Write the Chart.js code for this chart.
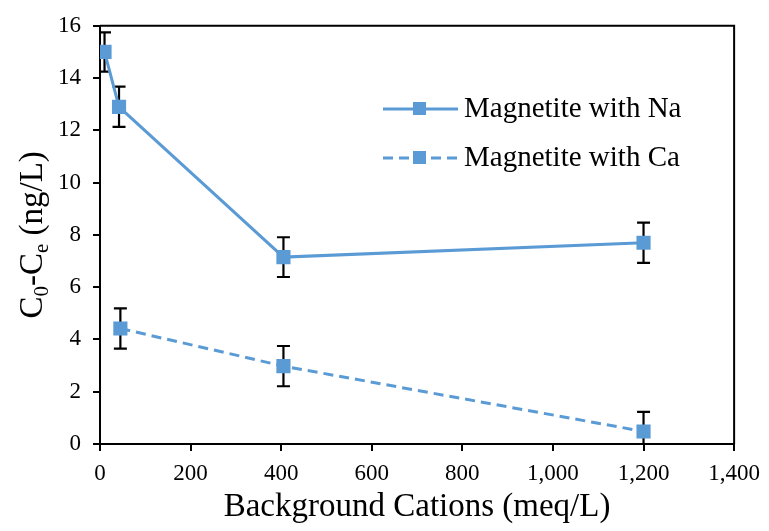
<!DOCTYPE html>
<html>
<head>
<meta charset="utf-8">
<script src="https://cdn.jsdelivr.net/npm/chart.js@4"></script>
<style>
  html, body { margin: 0; padding: 0; background: #fff; }
  #wrap { width: 769px; height: 531px; }
</style>
</head>
<body>
<div id="wrap"><canvas id="grafico"></canvas></div>
<script>
// datos
const naX = [10, 42, 405, 1200];
const naY = [15.0, 12.9, 7.15, 7.7];
const naErr = [0.75, 0.77, 0.76, 0.77];

const caX = [45, 405, 1200];
const caY = [4.42, 2.98, 0.48];
const caErr = [0.77, 0.77, 0.75];

const xTicks = [0, 200, 400, 600, 800, 1000, 1200, 1400];
const yTicks = [0, 2, 4, 6, 8, 10, 12, 14, 16];

const azul = "#5B9BD5";
const serif = "'Liberation Serif', 'Times New Roman', serif";
const guiones = [10, 6];

function puntos(xs, ys) {
  return xs.map((x, i) => ({ x: x, y: ys[i] }));
}

// barras de error (debajo de los marcadores)
const barrasError = {
  id: "barrasError",
  beforeDatasetsDraw(chart) {
    const ctx = chart.ctx;
    const xs = chart.scales.x, ys = chart.scales.y;
    const a = chart.chartArea;
    ctx.save();
    ctx.beginPath();
    ctx.rect(a.left, a.top - 20, a.right - a.left, a.bottom - a.top + 20);
    ctx.clip();
    ctx.strokeStyle = "#000";
    ctx.lineWidth = 2.2;
    const series = [[naX, naY, naErr], [caX, caY, caErr]];
    series.forEach(([X, Y, E]) => {
      X.forEach((x, i) => {
        const px = xs.getPixelForValue(x);
        const top = ys.getPixelForValue(Y[i] + E[i]);
        const bot = ys.getPixelForValue(Y[i] - E[i]);
        ctx.beginPath();
        ctx.moveTo(px, top); ctx.lineTo(px, bot);
        ctx.moveTo(px - 6.5, top); ctx.lineTo(px + 6.5, top);
        ctx.moveTo(px - 6.5, bot); ctx.lineTo(px + 6.5, bot);
        ctx.stroke();
      });
    });
    ctx.restore();
  }
};

// marco + leyenda + titulo eje y con subindices
const extras = {
  id: "extras",
  afterDatasetsDraw(chart) {
    const ctx = chart.ctx;
    const a = chart.chartArea;

    // marco superior y derecho
    ctx.save();
    ctx.strokeStyle = "#000";
    ctx.lineWidth = 2;
    ctx.beginPath();
    ctx.moveTo(a.left, a.top);
    ctx.lineTo(a.right, a.top);
    ctx.lineTo(a.right, a.bottom);
    ctx.stroke();
    ctx.restore();

    // leyenda
    const items = [
      { label: "Magnetite with Na", dash: [], y: 109 },
      { label: "Magnetite with Ca", dash: guiones, y: 158 }
    ];
    ctx.save();
    items.forEach(it => {
      ctx.strokeStyle = azul;
      ctx.lineWidth = 3;
      ctx.setLineDash(it.dash);
      ctx.beginPath();
      ctx.moveTo(383, it.y);
      ctx.lineTo(458, it.y);
      ctx.stroke();
      ctx.setLineDash([]);
      ctx.fillStyle = azul;
      ctx.fillRect(413, it.y - 7, 13, 13);
      ctx.fillStyle = "#000";
      ctx.font = "29px " + serif;
      ctx.textBaseline = "middle";
      ctx.textAlign = "left";
      ctx.fillText(it.label, 464, it.y);
    });
    ctx.restore();

    // titulo eje y: C0-Ce (ng/L)
    ctx.save();
    ctx.translate(34, (a.top + a.bottom) / 2);
    ctx.rotate(-Math.PI / 2);
    ctx.fillStyle = "#000";
    ctx.textBaseline = "alphabetic";
    const partes = [
      ["C", 33, 0], ["0", 21, 6], ["-C", 33, 0], ["e", 21, 6], [" (ng/L)", 33, 0]
    ];
    let ancho = 0;
    partes.forEach(p => { ctx.font = p[1] + "px " + serif; ancho += ctx.measureText(p[0]).width; });
    let cx = -ancho / 2;
    partes.forEach(p => {
      ctx.font = p[1] + "px " + serif;
      ctx.fillText(p[0], cx, 8 + p[2]);
      cx += ctx.measureText(p[0]).width;
    });
    ctx.restore();
  }
};

new Chart(document.getElementById("grafico").getContext("2d"), {
  type: "scatter",
  data: {
    datasets: [
      {
        label: "Magnetite with Na",
        data: puntos(naX, naY),
        showLine: true,
        borderColor: azul,
        backgroundColor: azul,
        borderWidth: 3,
        pointStyle: "rect",
        pointRadius: 10,
        pointBorderWidth: 0
      },
      {
        label: "Magnetite with Ca",
        data: puntos(caX, caY),
        showLine: true,
        borderColor: azul,
        backgroundColor: azul,
        borderWidth: 3,
        borderDash: guiones,
        pointStyle: "rect",
        pointRadius: 10,
        pointBorderWidth: 0
      }
    ]
  },
  options: {
    responsive: true,
    maintainAspectRatio: false,
    animation: false,
    layout: { padding: { top: 24, right: 31, left: 0, bottom: 0 } },
    plugins: {
      legend: { display: false },
      tooltip: { enabled: false }
    },
    scales: {
      x: {
        type: "linear",
        min: 0,
        max: 1400,
        afterBuildTicks: s => { s.ticks = xTicks.map(v => ({ value: v })); },
        afterFit: s => { s.height = 87; },
        ticks: {
          color: "#000",
          font: { family: serif, size: 23 },
          padding: 9,
          maxRotation: 0,
          callback: v => v.toLocaleString("en-US")
        },
        grid: { drawOnChartArea: false, drawTicks: true, tickLength: 7, color: "#000", lineWidth: 2 },
        border: { color: "#000", width: 2 },
        title: {
          display: true,
          text: "Background Cations (meq/L)",
          color: "#000",
          font: { family: serif, size: 33 },
          padding: { top: 17 }
        }
      },
      y: {
        min: 0,
        max: 16,
        afterBuildTicks: s => { s.ticks = yTicks.map(v => ({ value: v })); },
        afterFit: s => { s.width = 100; },
        ticks: {
          color: "#000",
          font: { family: serif, size: 23 },
          padding: 12
        },
        grid: { drawOnChartArea: false, drawTicks: true, tickLength: 7, color: "#000", lineWidth: 2 },
        border: { color: "#000", width: 2 }
      }
    }
  },
  plugins: [barrasError, extras]
});
</script>
</body>
</html>
